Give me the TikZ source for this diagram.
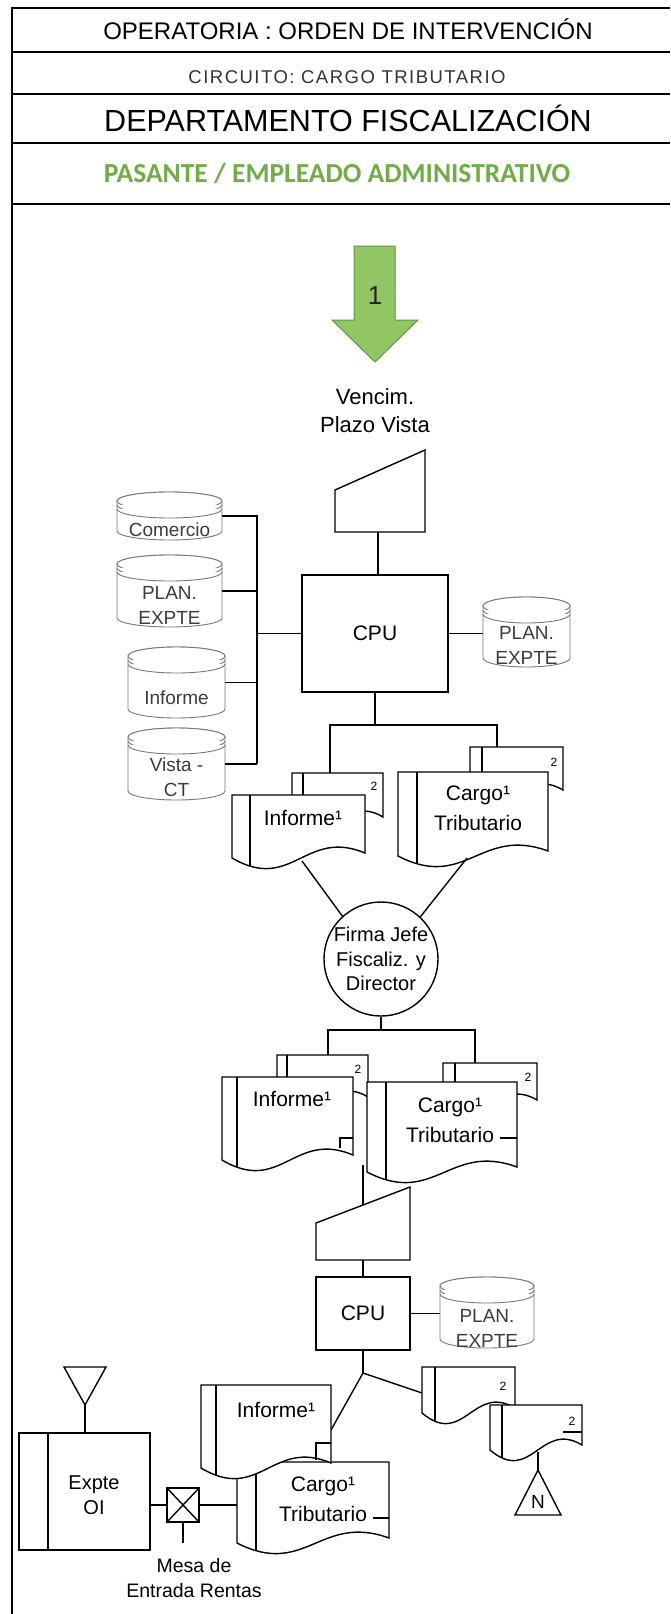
\documentclass[tikz,border=0pt]{standalone}
\usepackage{fontspec}
\setmainfont{Liberation Sans}
\newfontfamily\carl{Carlito}
\definecolor{hdrgreen}{RGB}{112,173,71}
\definecolor{arrowfill}{RGB}{146,198,100}
\definecolor{arrowline}{RGB}{100,150,65}
\definecolor{dbgray}{RGB}{120,120,120}
\definecolor{dbtext}{RGB}{60,60,60}
\tikzset{
 ln/.style={line width=1.4pt, line join=miter},
 shp/.style={ln, draw, fill=white},
 box/.style={shp, inner sep=0pt, font=\fontsize{21}{26}\selectfont},
 hdr/.style={line width=1.8pt},
 lbl/.style={inner sep=0pt, align=center, font=\fontsize{21}{30}\selectfont},
 dbs/.style={draw=dbgray, line width=0.9pt, fill=white},
 dbtxt/.style={inner sep=0pt, align=center, text=dbtext, font=\fontsize{19}{25}\selectfont},
 copyno/.style={inner sep=0pt, font=\fontsize{12}{14}\selectfont},
}
% document shape: name, x0, ytop, x1, ybottom(left), stripe x
\newcommand\docu[6]{%
 \pgfmathsetmacro\dca{#2+0.55*(#4-#2)}%
 \pgfmathsetmacro\dcb{#2+0.45*(#4-#2)}%
 \filldraw[shp] (#2,#3) -- (#4,#3) -- (#4,#5-5) .. controls (\dca,#5-30) and (\dcb,#5+35) .. (#2,#5) -- cycle;
 \begin{scope}
 \clip (#2,#3) -- (#4,#3) -- (#4,#5-5) .. controls (\dca,#5-30) and (\dcb,#5+35) .. (#2,#5) -- cycle;
 \draw[ln] (#6,#3) -- (#6,#5+40);
 \end{scope}
 \coordinate (#1-nw) at (#2,#3);
 \coordinate (#1-ne) at (#4,#3);
}
% cylinder: name, x0, ytop, x1, ybottom, text y, text
\newcommand\cyl[7]{%
 \pgfmathsetmacro\cylcx{(#2+#4)/2}%
 \pgfmathsetmacro\cylrx{(#4-#2)/2}%
 \pgfmathsetmacro\cylmy{(#3+#5)/2}%
 \filldraw[dbs] (#2,#3+9) -- (#2,#5-9) arc[start angle=180,end angle=360,x radius=\cylrx pt,y radius=9pt] -- (#4,#3+9) arc[start angle=0,end angle=180,x radius=\cylrx pt,y radius=9pt] -- cycle;
 \draw[dbs] (\cylcx,#3+9) ellipse[x radius=\cylrx pt,y radius=9pt];
 \draw[dbs] (#2,#3+13) arc[start angle=180,end angle=360,x radius=\cylrx pt,y radius=9pt];
 \draw[dbs] (#2,#3+17) arc[start angle=180,end angle=360,x radius=\cylrx pt,y radius=9pt];
 \coordinate (#1-e) at (#4,\cylmy);
 \coordinate (#1-w) at (#2,\cylmy);
 \node[dbtxt] (#1) at (\cylcx,#6) {#7};
}
\begin{document}
\begin{tikzpicture}[x=1pt,y=-1pt]
\useasboundingbox (0,0) rectangle (670,1614);
\fill[white] (0,0) rectangle (670,1614);

% ---------- header ----------
\draw[hdr] (12,1614) -- (12,8) -- (670,8);
\foreach \yy in {52,94,143,204} {\draw[hdr] (12,\yy) -- (670,\yy);}
\node[anchor=base, inner sep=0pt, font=\fontsize{24}{28}\selectfont] (t1) at (348,39.5) {OPERATORIA : ORDEN DE INTERVENCIÓN};
\node[anchor=base, inner sep=0pt, text=black!80, font=\fontsize{18.5}{22}\selectfont\addfontfeature{LetterSpace=8}] (t2) at (347,83) {CIRCUITO: CARGO TRIBUTARIO};
\node[anchor=base, inner sep=0pt, font=\fontsize{30.5}{34}\selectfont] (t3) at (348,131) {DEPARTAMENTO FISCALIZACIÓN};
\node[anchor=base, inner sep=0pt, text=hdrgreen, font=\carl\bfseries\fontsize{27.5}{32}\selectfont] (t4) at (337,182.7) {PASANTE / EMPLEADO ADMINISTRATIVO};

% ---------- start arrow ----------
\filldraw[fill=arrowfill, draw=arrowline, line width=1pt] (354,246) -- (395,246) -- (395,320) -- (418,320) -- (375,362) -- (332,320) -- (354,320) -- cycle;
\node[inner sep=0pt, text=black!85, font=\fontsize{26}{30}\selectfont] (one) at (375,296) {1};
\node[lbl, font=\fontsize{22}{28}\selectfont] (venc) at (375,411) {Vencim.\\Plazo Vista};

% ---------- first terminal ----------
\filldraw[shp] (335,490) -- (425,450) -- (425,532) -- (335,532) -- cycle;
\coordinate (trap1-s) at (378,532);
\node[box, minimum width=146pt, minimum height=117pt] (cpu1) at (375,633.5) {CPU};
\draw[ln] (trap1-s) -- (trap1-s |- cpu1.north);

% left databases
\cyl{dbcom}{117}{492}{222}{540}{530}{Comercio}
\cyl{dbplan}{117}{555}{222}{627}{605}{PLAN.\\EXPTE}
\cyl{dbinf}{128}{647}{225}{718}{698}{Informe}
\cyl{dbvis}{128}{728}{225}{800}{777}{Vista -\\CT}
\coordinate (busbot) at (257,764);
\draw[ln] (dbcom-e) -| (busbot);
\draw[ln] (dbplan-e) -- (dbplan-e -| busbot);
\draw[ln] (dbinf-e) -- (dbinf-e -| busbot);
\draw[ln] (dbvis-e) -- (dbvis-e -| busbot);
\draw[ln] (cpu1.west) -- (cpu1.west -| busbot);
% right database
\cyl{dbr1}{483}{597}{570}{667}{645}{PLAN.\\EXPTE}
\draw[ln] (cpu1.east) -- (cpu1.east -| dbr1-w);

% outputs 1
\coordinate (j1) at (376,725);
\coordinate (a2top) at (330,773);
\coordinate (b2top) at (497,747);
\draw[ln] (cpu1.south) -- (cpu1.south |- j1);
\draw[ln] (a2top) |- (j1) -| (b2top);
\docu{a2}{292}{773}{383}{822}{303}
\docu{b2}{470}{747}{563}{795}{482}
\node[copyno] (a2n) at (374,786) {2};
\node[copyno] (b2n) at (554,762) {2};
\docu{a1}{232}{795}{365}{858}{250}
\docu{b1}{398}{772}{548}{856}{417}
\node[lbl] (a1t) at (303,818) {Informe¹};
\node[lbl] (b1t) at (478,808) {Cargo¹\\Tributario};

% signature
\node[draw, circle, ln, fill=white, minimum size=114pt, inner sep=0pt, align=center, font=\fontsize{20}{24.5}\selectfont] (firma) at (381,959) {Firma Jefe\\Fiscaliz. y\\Director};
\coordinate (a1b) at (302,861);
\coordinate (b1b) at (467,858);
\draw[ln] (a1b) -- (firma.132);
\draw[ln] (b1b) -- (firma.47);

% outputs 2
\coordinate (j2) at (380,1030);
\coordinate (c2top) at (328,1055);
\coordinate (d2top) at (475,1063);
\draw[ln] (firma.south) -- (firma.south |- j2);
\draw[ln] (c2top) |- (j2) -| (d2top);
\docu{c2}{277}{1055}{368}{1102}{287}
\docu{d2}{443}{1063}{537}{1105}{455}
\node[copyno] (c2n) at (358,1069) {2};
\node[copyno] (d2n) at (528,1077) {2};
\docu{c1}{222}{1077}{353}{1160}{237}
\docu{d1}{367}{1082}{517}{1172}{386}
\draw[ln] (340,1148) -- (340,1138) -- (353,1138);
\draw[ln] (500,1138) -- (517,1138);
\node[lbl] (c1t) at (292,1099) {Informe¹};
\node[lbl] (d1t) at (450,1120) {Cargo¹\\Tributario};

% second terminal
\coordinate (docs2j) at (363,1165);
\filldraw[shp] (316,1223) -- (410,1187) -- (410,1260) -- (316,1260) -- cycle;
\coordinate (trap2-n) at (363,1205);
\coordinate (trap2-s) at (363,1260);
\draw[ln] (docs2j) -- (trap2-n);
\node[box, minimum width=94pt, minimum height=73pt] (cpu2) at (363,1313.5) {CPU};
\draw[ln] (trap2-s) -- (cpu2.north);
\cyl{dbr2}{440}{1277}{534}{1348}{1328}{PLAN.\\EXPTE}
\draw[ln] (cpu2.east) -- (cpu2.east -| dbr2-w);
\coordinate (j3) at (363,1373);
\coordinate (e1r) at (331,1430);
\coordinate (g1l) at (422,1393);
\draw[ln] (cpu2.south) -- (j3);
\draw[ln] (j3) -- (e1r);
\draw[ln] (j3) -- (g1l);

% outputs 3
\docu{f1}{237}{1462}{389}{1543}{256}
\docu{e1}{201}{1385}{331}{1468}{216}
\draw[ln] (316,1460) -- (316,1443) -- (331,1443);
\draw[ln] (373,1518) -- (389,1518);
\node[lbl] (e1t) at (276,1410) {Informe¹};
\node[lbl] (f1t) at (323,1499) {Cargo¹\\Tributario};
\docu{g1}{422}{1367}{515}{1413}{435}
\node[copyno] (g1n) at (503,1386) {2};
\docu{g2}{490}{1405}{582}{1450}{502}
\node[copyno] (g2n) at (572,1421) {2};
\draw[ln] (563,1432) -- (582,1432);
% file N
\coordinate (g2b) at (538,1452);
\coordinate (tri-top) at (538,1470);
\filldraw[shp] (tri-top) -- (561,1515) -- (515,1515) -- cycle;
\node[inner sep=0pt, font=\fontsize{19}{22}\selectfont] (ntri) at (538,1502) {N};
\draw[ln] (g2b) -- (tri-top);

% archive + expediente
\filldraw[shp] (64,1367) -- (106,1367) -- (85,1405) -- cycle;
\coordinate (arch-b) at (85,1405);
\node[box, minimum width=131pt, minimum height=117pt] (expte) at (84.5,1491.5) {};
\draw[ln] (48,1433) -- (48,1550);
\node[lbl, font=\fontsize{20}{25}\selectfont] (expt) at (94,1495) {Expte\\OI};
\draw[ln] (arch-b) -- (arch-b |- expte.north);
\node[box, minimum width=32pt, minimum height=34pt] (mesa) at (183,1505) {};
\draw[ln] (mesa.north west) -- (mesa.south east);
\draw[ln] (mesa.north east) -- (mesa.south west);
\coordinate (f1l) at (237,1505);
\coordinate (mesab) at (183,1543);
\draw[ln] (mesa.west) -- (mesa.west -| expte.east);
\draw[ln] (mesa.east) -- (f1l);
\draw[ln] (mesa.south) -- (mesab);
\node[lbl, font=\fontsize{19.5}{25}\selectfont] (mesal) at (194,1578) {Mesa de\\Entrada Rentas};
\end{tikzpicture}
\end{document}
